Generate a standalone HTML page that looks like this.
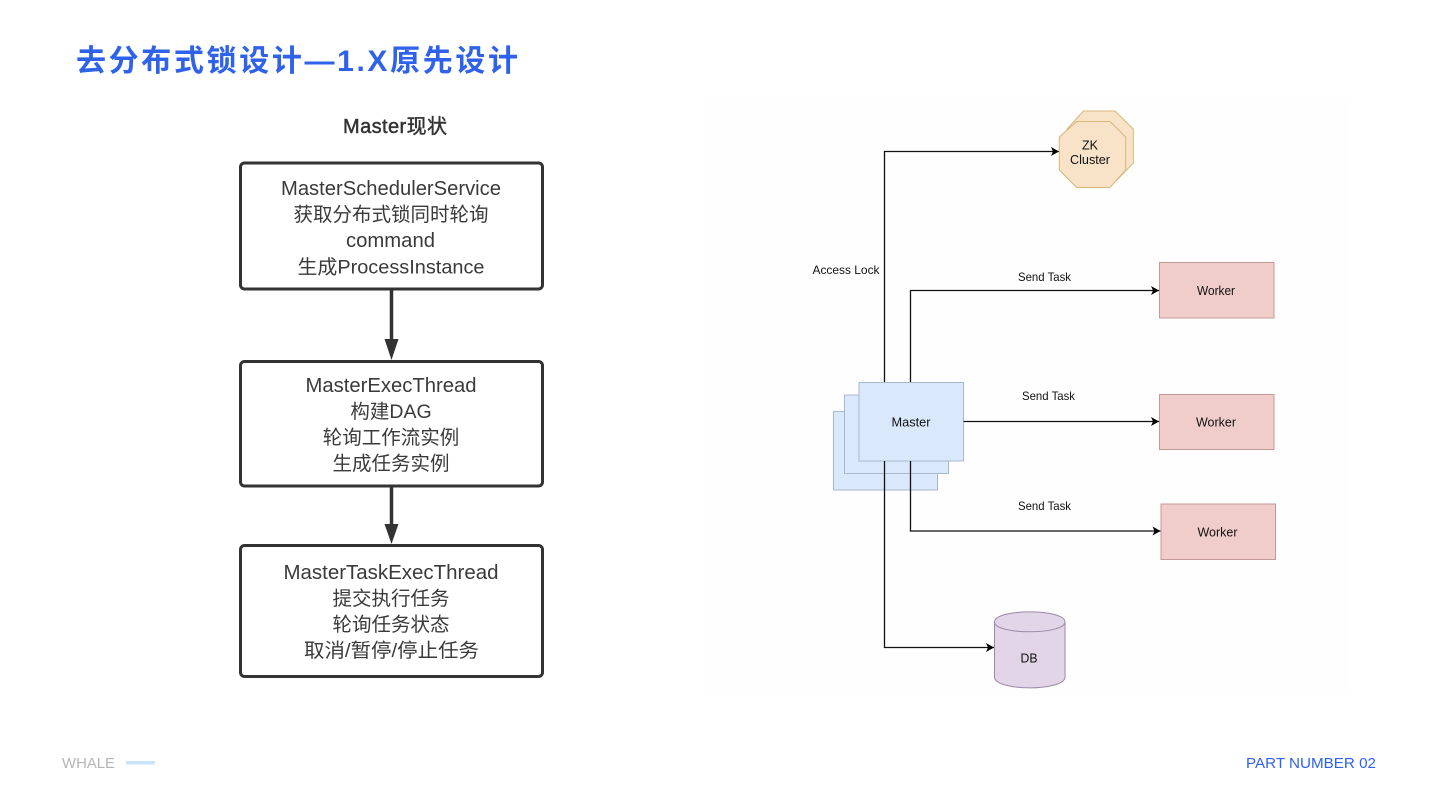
<!DOCTYPE html>
<html><head><meta charset="utf-8"><style>
html,body{margin:0;padding:0;background:#fff;width:1440px;height:810px;overflow:hidden}
svg{display:block}
text{font-family:"Liberation Sans","Noto Sans CJK SC",sans-serif}
.f{font-size:20px;fill:#3a3a3a;text-anchor:middle}
.c{font-size:19.5px;fill:#3a3a3a;text-anchor:middle}
.d{font-size:12.5px;fill:#111;text-anchor:middle}
.s{font-size:12px;fill:#111;text-anchor:middle}
</style></head><body>
<svg width="1440" height="810" viewBox="0 0 1440 810" xmlns="http://www.w3.org/2000/svg">
<defs><marker id="a" markerWidth="10" markerHeight="10" refX="8" refY="4.5" orient="auto" markerUnits="userSpaceOnUse"><path d="M0 0L8 4.5L0 9L2 4.5Z" fill="#000"/></marker></defs>
<rect width="1440" height="810" fill="#fff"/>
<rect x="705" y="100" width="645" height="595" fill="#fefefe"/>
<text x="76" y="71" font-size="30" font-weight="bold" fill="#2f62ea" textLength="442">去分布式锁设计—1.X原先设计</text>

<text x="395" y="133" font-size="20" fill="#333" stroke="#333" stroke-width=".45" text-anchor="middle" textLength="104">Master现状</text>
<g fill="#fff" stroke="#333" stroke-width="3">
<rect x="240.5" y="163" width="302" height="126" rx="4"/>
<rect x="240.5" y="361.5" width="302" height="124.5" rx="4"/>
<rect x="240.5" y="545.5" width="302" height="131" rx="4"/>
</g>
<path d="M391.5 290V342M391.5 487V526" stroke="#333" stroke-width="3.5" fill="none"/>
<path d="M384.5 339H398.5L391.5 360ZM384.5 524H398.5L391.5 544Z" fill="#333"/>
<text class="f" x="391" y="195" textLength="220" lengthAdjust="spacingAndGlyphs">MasterSchedulerService</text>
<text class="c" x="391" y="221">获取分布式锁同时轮询</text>
<text class="f" x="390.500" y="247" textLength="89" lengthAdjust="spacingAndGlyphs">command</text>
<text class="c" x="391" y="273.500" textLength="187" lengthAdjust="spacingAndGlyphs">生成ProcessInstance</text>
<text class="f" x="391" y="392" textLength="171" lengthAdjust="spacingAndGlyphs">MasterExecThread</text>
<text class="c" x="391" y="418">构建DAG</text>
<text class="c" x="391" y="444">轮询工作流实例</text>
<text class="c" x="391" y="470">生成任务实例</text>
<text class="f" x="391" y="579" textLength="215" lengthAdjust="spacingAndGlyphs">MasterTaskExecThread</text>
<text class="c" x="391" y="605">提交执行任务</text>
<text class="c" x="391" y="631">轮询任务状态</text>
<text class="c" x="391.500" y="657" textLength="175" lengthAdjust="spacingAndGlyphs">取消/暂停/停止任务</text>

<g fill="#dae8fc" stroke="#a9b8cf" stroke-width="1">
<rect x="833.5" y="411.5" width="104" height="78.5"/>
<rect x="844.5" y="395" width="104" height="78.5"/>
<rect x="859" y="382.5" width="104.5" height="78.5"/>
</g>
<text class="d" x="911" y="426.5" textLength="39" lengthAdjust="spacingAndGlyphs">Master</text>

<g fill="none" stroke="#111" stroke-width="1.3">
<path d="M884.5 382V151.5H1059" marker-end="url(#a)"/>
<path d="M910.5 382V290.5H1159" marker-end="url(#a)"/>
<path d="M963.5 421.5H1159" marker-end="url(#a)"/>
<path d="M910.5 461V531H1160.5" marker-end="url(#a)"/>
<path d="M884.5 461V647.5H994" marker-end="url(#a)"/>
</g>

<g fill="#f8e2c8" stroke="#d9b67a" stroke-width="1">
<path d="M1083.5 111H1115L1133.3 129V163L1117 180H1085L1067 163V129Z"/>
<path d="M1076.7 121.5H1110L1125.7 137V170L1110 187.5H1076.7L1059.3 170V137Z"/>
</g>
<text class="d" x="1090" y="149.5" textLength="16" lengthAdjust="spacingAndGlyphs">ZK</text>
<text class="d" x="1090" y="164" textLength="40" lengthAdjust="spacingAndGlyphs">Cluster</text>

<g fill="#f0cdca" stroke="#c49a98" stroke-width="1">
<rect x="1159.5" y="262.5" width="114.5" height="55.5"/>
<rect x="1159.5" y="394.5" width="114.5" height="55"/>
<rect x="1161" y="504" width="114.5" height="55.5"/>
</g>
<text class="d" x="1216" y="295" textLength="38" lengthAdjust="spacingAndGlyphs">Worker</text>
<text class="d" x="1216" y="426.5" textLength="40" lengthAdjust="spacingAndGlyphs">Worker</text>
<text class="d" x="1217.5" y="536.5" textLength="40" lengthAdjust="spacingAndGlyphs">Worker</text>

<path d="M994.5 622C994.5 608.5 1065 608.5 1065 622V677C1065 691.5 994.5 691.5 994.5 677Z" fill="#e1d5e7" stroke="#9c8aa5" stroke-width="1"/>
<path d="M994.5 622C994.5 635 1065 635 1065 622" fill="none" stroke="#9c8aa5" stroke-width="1"/>
<text class="d" x="1029" y="662.5" textLength="17" lengthAdjust="spacingAndGlyphs">DB</text>

<text class="s" x="846" y="274" textLength="67" lengthAdjust="spacingAndGlyphs">Access Lock</text>
<text class="s" x="1044.5" y="281" textLength="53" lengthAdjust="spacingAndGlyphs">Send Task</text>
<text class="s" x="1048.5" y="400" textLength="53" lengthAdjust="spacingAndGlyphs">Send Task</text>
<text class="s" x="1044.5" y="510" textLength="53" lengthAdjust="spacingAndGlyphs">Send Task</text>

<text x="62" y="768" font-size="14.5" fill="#b5b5b5" textLength="53" lengthAdjust="spacingAndGlyphs">WHALE</text>
<rect x="126" y="761" width="29" height="3.5" fill="#c9e3f8"/>
<text x="1376" y="768" font-size="14.5" fill="#2f62ea" text-anchor="end" textLength="130" lengthAdjust="spacingAndGlyphs">PART NUMBER 02</text>
</svg>
</body></html>
